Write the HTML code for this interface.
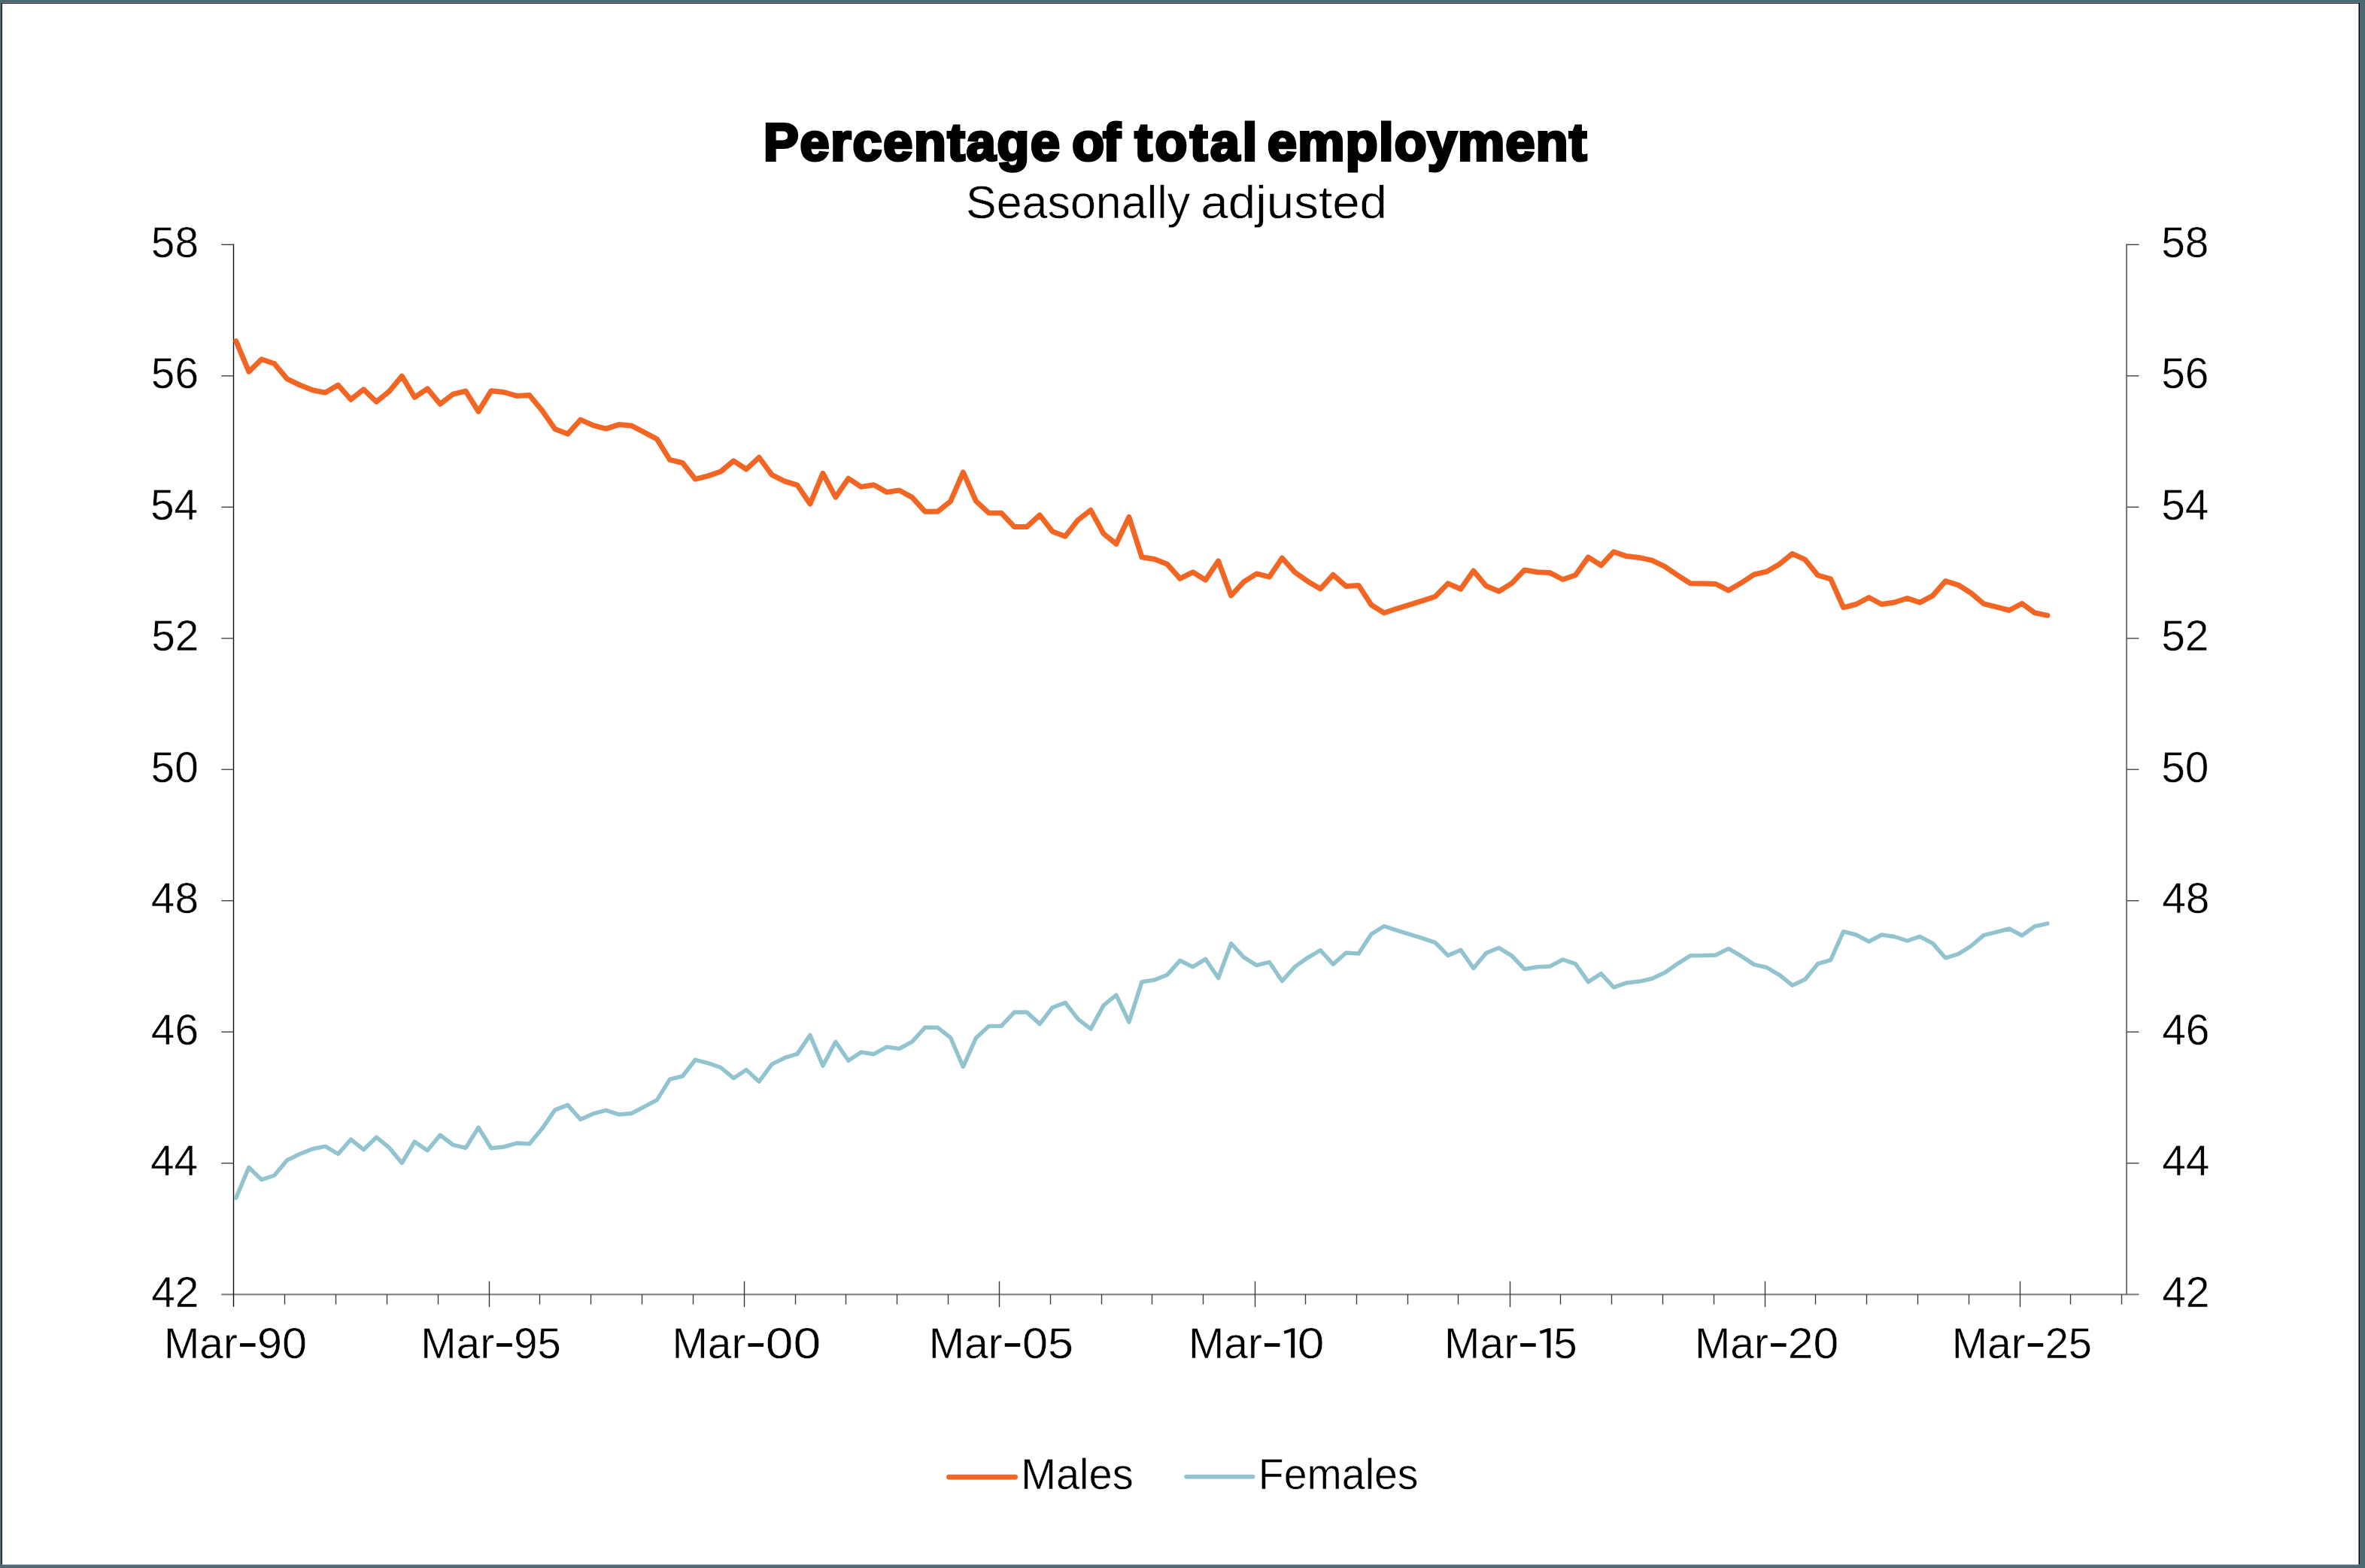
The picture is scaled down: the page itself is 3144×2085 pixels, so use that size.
<!DOCTYPE html>
<html><head><meta charset="utf-8"><title>Percentage of total employment</title>
<style>
html,body{margin:0;padding:0;background:#4c6a72;}
body{width:3144px;height:2085px;overflow:hidden;position:relative;}
svg{position:absolute;left:0;top:0;display:block;}
text{font-family:"Liberation Sans",sans-serif;fill:#000;font-kerning:none;white-space:pre;text-rendering:geometricPrecision;}
</style></head><body>
<svg width="3144" height="2085" viewBox="0 0 3144 2085">
<rect x="0" y="0" width="3144" height="2085" fill="#4c6a72"/>
<rect x="2" y="3" width="3135" height="2077.5" fill="#ffffff"/>
<rect x="2" y="3" width="3135" height="1" fill="#747474"/>
<rect x="2" y="4" width="3135" height="1" fill="#333333"/>
<rect x="2" y="4" width="1" height="2076.5" fill="#000000"/>
<rect x="3135.5" y="4" width="1.5" height="2076.5" fill="#000000"/>
<text x="1015.02" y="213.40" font-size="70" font-weight="700" letter-spacing="1.840" stroke="#000" stroke-width="3.8" stroke-linejoin="miter" stroke-miterlimit="3">Percentage</text>
<text x="1425.37" y="213.40" font-size="70" font-weight="700" letter-spacing="-1.772" stroke="#000" stroke-width="3.8" stroke-linejoin="miter" stroke-miterlimit="3">of</text>
<text x="1508.45" y="213.40" font-size="70" font-weight="700" letter-spacing="3.738" stroke="#000" stroke-width="3.8" stroke-linejoin="miter" stroke-miterlimit="3">total</text>
<text x="1685.07" y="213.40" font-size="70" font-weight="700" letter-spacing="1.320" stroke="#000" stroke-width="3.8" stroke-linejoin="miter" stroke-miterlimit="3">employment</text>
<text x="1283.98" y="289.85" font-size="61.3" font-weight="400" textLength="298.29" lengthAdjust="spacingAndGlyphs" stroke="#fff" stroke-width="0.5" stroke-linejoin="round">Seasonally</text>
<text x="1596.27" y="289.85" font-size="61.3" font-weight="400" textLength="247.81" lengthAdjust="spacingAndGlyphs" stroke="#fff" stroke-width="0.5" stroke-linejoin="round">adjusted</text>
<line x1="294.3" y1="1721.2" x2="2843.4" y2="1721.2" stroke="#7c7c7c" stroke-width="1.9"/>
<line x1="378.5" y1="1721.2" x2="378.5" y2="1734.5" stroke="#404040" stroke-width="1.4"/>
<line x1="446.5" y1="1721.2" x2="446.5" y2="1734.5" stroke="#404040" stroke-width="1.4"/>
<line x1="514.5" y1="1721.2" x2="514.5" y2="1734.5" stroke="#404040" stroke-width="1.4"/>
<line x1="582.5" y1="1721.2" x2="582.5" y2="1734.5" stroke="#404040" stroke-width="1.4"/>
<line x1="650.5" y1="1703.7" x2="650.5" y2="1738.1" stroke="#3a3a3a" stroke-width="1.4"/>
<line x1="717.5" y1="1721.2" x2="717.5" y2="1734.5" stroke="#404040" stroke-width="1.4"/>
<line x1="785.5" y1="1721.2" x2="785.5" y2="1734.5" stroke="#404040" stroke-width="1.4"/>
<line x1="853.5" y1="1721.2" x2="853.5" y2="1734.5" stroke="#404040" stroke-width="1.4"/>
<line x1="921.5" y1="1721.2" x2="921.5" y2="1734.5" stroke="#404040" stroke-width="1.4"/>
<line x1="989.5" y1="1703.7" x2="989.5" y2="1738.1" stroke="#3a3a3a" stroke-width="1.4"/>
<line x1="1057.5" y1="1721.2" x2="1057.5" y2="1734.5" stroke="#404040" stroke-width="1.4"/>
<line x1="1124.5" y1="1721.2" x2="1124.5" y2="1734.5" stroke="#404040" stroke-width="1.4"/>
<line x1="1192.5" y1="1721.2" x2="1192.5" y2="1734.5" stroke="#404040" stroke-width="1.4"/>
<line x1="1260.5" y1="1721.2" x2="1260.5" y2="1734.5" stroke="#404040" stroke-width="1.4"/>
<line x1="1328.5" y1="1703.7" x2="1328.5" y2="1738.1" stroke="#3a3a3a" stroke-width="1.4"/>
<line x1="1396.5" y1="1721.2" x2="1396.5" y2="1734.5" stroke="#404040" stroke-width="1.4"/>
<line x1="1464.5" y1="1721.2" x2="1464.5" y2="1734.5" stroke="#404040" stroke-width="1.4"/>
<line x1="1531.5" y1="1721.2" x2="1531.5" y2="1734.5" stroke="#404040" stroke-width="1.4"/>
<line x1="1599.5" y1="1721.2" x2="1599.5" y2="1734.5" stroke="#404040" stroke-width="1.4"/>
<line x1="1668.5" y1="1703.7" x2="1668.5" y2="1738.1" stroke="#3a3a3a" stroke-width="1.4"/>
<line x1="1735.5" y1="1721.2" x2="1735.5" y2="1734.5" stroke="#404040" stroke-width="1.4"/>
<line x1="1803.5" y1="1721.2" x2="1803.5" y2="1734.5" stroke="#404040" stroke-width="1.4"/>
<line x1="1871.5" y1="1721.2" x2="1871.5" y2="1734.5" stroke="#404040" stroke-width="1.4"/>
<line x1="1938.5" y1="1721.2" x2="1938.5" y2="1734.5" stroke="#404040" stroke-width="1.4"/>
<line x1="2007.5" y1="1703.7" x2="2007.5" y2="1738.1" stroke="#3a3a3a" stroke-width="1.4"/>
<line x1="2074.5" y1="1721.2" x2="2074.5" y2="1734.5" stroke="#404040" stroke-width="1.4"/>
<line x1="2142.5" y1="1721.2" x2="2142.5" y2="1734.5" stroke="#404040" stroke-width="1.4"/>
<line x1="2210.5" y1="1721.2" x2="2210.5" y2="1734.5" stroke="#404040" stroke-width="1.4"/>
<line x1="2278.5" y1="1721.2" x2="2278.5" y2="1734.5" stroke="#404040" stroke-width="1.4"/>
<line x1="2346.5" y1="1703.7" x2="2346.5" y2="1738.1" stroke="#3a3a3a" stroke-width="1.4"/>
<line x1="2413.5" y1="1721.2" x2="2413.5" y2="1734.5" stroke="#404040" stroke-width="1.4"/>
<line x1="2481.5" y1="1721.2" x2="2481.5" y2="1734.5" stroke="#404040" stroke-width="1.4"/>
<line x1="2549.5" y1="1721.2" x2="2549.5" y2="1734.5" stroke="#404040" stroke-width="1.4"/>
<line x1="2617.5" y1="1721.2" x2="2617.5" y2="1734.5" stroke="#404040" stroke-width="1.4"/>
<line x1="2685.5" y1="1703.7" x2="2685.5" y2="1738.1" stroke="#3a3a3a" stroke-width="1.4"/>
<line x1="2752.5" y1="1721.2" x2="2752.5" y2="1734.5" stroke="#404040" stroke-width="1.4"/>
<line x1="2820.5" y1="1721.2" x2="2820.5" y2="1734.5" stroke="#404040" stroke-width="1.4"/>
<line x1="310.5" y1="324.6" x2="310.5" y2="1737.8" stroke="#111" stroke-width="1.4"/>
<line x1="2827.1" y1="324.6" x2="2827.1" y2="1722.0" stroke="#6e6e6e" stroke-width="1.9"/>
<line x1="294.3" y1="325.3" x2="310.5" y2="325.3" stroke="#444" stroke-width="1.4"/>
<line x1="2827.1" y1="325.3" x2="2843.4" y2="325.3" stroke="#444" stroke-width="1.4"/>
<line x1="294.3" y1="499.8" x2="310.5" y2="499.8" stroke="#444" stroke-width="1.4"/>
<line x1="2827.1" y1="499.8" x2="2843.4" y2="499.8" stroke="#444" stroke-width="1.4"/>
<line x1="294.3" y1="674.3" x2="310.5" y2="674.3" stroke="#444" stroke-width="1.4"/>
<line x1="2827.1" y1="674.3" x2="2843.4" y2="674.3" stroke="#444" stroke-width="1.4"/>
<line x1="294.3" y1="848.8" x2="310.5" y2="848.8" stroke="#444" stroke-width="1.4"/>
<line x1="2827.1" y1="848.8" x2="2843.4" y2="848.8" stroke="#444" stroke-width="1.4"/>
<line x1="294.3" y1="1023.2" x2="310.5" y2="1023.2" stroke="#444" stroke-width="1.4"/>
<line x1="2827.1" y1="1023.2" x2="2843.4" y2="1023.2" stroke="#444" stroke-width="1.4"/>
<line x1="294.3" y1="1197.7" x2="310.5" y2="1197.7" stroke="#444" stroke-width="1.4"/>
<line x1="2827.1" y1="1197.7" x2="2843.4" y2="1197.7" stroke="#444" stroke-width="1.4"/>
<line x1="294.3" y1="1372.2" x2="310.5" y2="1372.2" stroke="#444" stroke-width="1.4"/>
<line x1="2827.1" y1="1372.2" x2="2843.4" y2="1372.2" stroke="#444" stroke-width="1.4"/>
<line x1="294.3" y1="1546.7" x2="310.5" y2="1546.7" stroke="#444" stroke-width="1.4"/>
<line x1="2827.1" y1="1546.7" x2="2843.4" y2="1546.7" stroke="#444" stroke-width="1.4"/>
<text x="200.80" y="341.75" font-size="57.8" font-weight="400" textLength="63.22" lengthAdjust="spacingAndGlyphs" stroke="#fff" stroke-width="0.5" stroke-linejoin="round">58</text>
<text x="2873.17" y="341.75" font-size="57.8" font-weight="400" textLength="63.22" lengthAdjust="spacingAndGlyphs" stroke="#fff" stroke-width="0.5" stroke-linejoin="round">58</text>
<text x="200.82" y="516.24" font-size="57.8" font-weight="400" textLength="63.22" lengthAdjust="spacingAndGlyphs" stroke="#fff" stroke-width="0.5" stroke-linejoin="round">56</text>
<text x="2873.17" y="516.24" font-size="57.8" font-weight="400" textLength="63.22" lengthAdjust="spacingAndGlyphs" stroke="#fff" stroke-width="0.5" stroke-linejoin="round">56</text>
<text x="200.00" y="690.73" font-size="57.8" font-weight="400" textLength="63.22" lengthAdjust="spacingAndGlyphs" stroke="#fff" stroke-width="0.5" stroke-linejoin="round">54</text>
<text x="2873.17" y="690.73" font-size="57.8" font-weight="400" textLength="63.22" lengthAdjust="spacingAndGlyphs" stroke="#fff" stroke-width="0.5" stroke-linejoin="round">54</text>
<text x="201.18" y="865.21" font-size="57.8" font-weight="400" textLength="63.23" lengthAdjust="spacingAndGlyphs" stroke="#fff" stroke-width="0.5" stroke-linejoin="round">52</text>
<text x="2873.17" y="865.21" font-size="57.8" font-weight="400" textLength="63.23" lengthAdjust="spacingAndGlyphs" stroke="#fff" stroke-width="0.5" stroke-linejoin="round">52</text>
<text x="200.55" y="1039.70" font-size="57.8" font-weight="400" textLength="63.22" lengthAdjust="spacingAndGlyphs" stroke="#fff" stroke-width="0.5" stroke-linejoin="round">50</text>
<text x="2873.17" y="1039.70" font-size="57.8" font-weight="400" textLength="63.22" lengthAdjust="spacingAndGlyphs" stroke="#fff" stroke-width="0.5" stroke-linejoin="round">50</text>
<text x="200.80" y="1214.19" font-size="57.8" font-weight="400" textLength="63.22" lengthAdjust="spacingAndGlyphs" stroke="#fff" stroke-width="0.5" stroke-linejoin="round">48</text>
<text x="2874.15" y="1214.19" font-size="57.8" font-weight="400" textLength="63.22" lengthAdjust="spacingAndGlyphs" stroke="#fff" stroke-width="0.5" stroke-linejoin="round">48</text>
<text x="200.83" y="1388.68" font-size="57.8" font-weight="400" textLength="63.22" lengthAdjust="spacingAndGlyphs" stroke="#fff" stroke-width="0.5" stroke-linejoin="round">46</text>
<text x="2874.15" y="1388.68" font-size="57.8" font-weight="400" textLength="63.22" lengthAdjust="spacingAndGlyphs" stroke="#fff" stroke-width="0.5" stroke-linejoin="round">46</text>
<text x="200.01" y="1563.16" font-size="57.8" font-weight="400" textLength="63.21" lengthAdjust="spacingAndGlyphs" stroke="#fff" stroke-width="0.5" stroke-linejoin="round">44</text>
<text x="2874.15" y="1563.16" font-size="57.8" font-weight="400" textLength="63.21" lengthAdjust="spacingAndGlyphs" stroke="#fff" stroke-width="0.5" stroke-linejoin="round">44</text>
<text x="201.19" y="1737.65" font-size="57.8" font-weight="400" textLength="63.22" lengthAdjust="spacingAndGlyphs" stroke="#fff" stroke-width="0.5" stroke-linejoin="round">42</text>
<text x="2874.15" y="1737.65" font-size="57.8" font-weight="400" textLength="63.22" lengthAdjust="spacingAndGlyphs" stroke="#fff" stroke-width="0.5" stroke-linejoin="round">42</text>
<text x="217.98" y="1805.55" font-size="57.8" font-weight="400" textLength="98.01" lengthAdjust="spacingAndGlyphs" stroke="#fff" stroke-width="0.5" stroke-linejoin="round">Mar</text>
<rect x="319.00" y="1786.1" width="20.6" height="4.7" fill="#000"/>
<text x="341.97" y="1805.55" font-size="57.8" font-weight="400" textLength="66.00" lengthAdjust="spacingAndGlyphs" stroke="#fff" stroke-width="0.5" stroke-linejoin="round">90</text>
<text x="559.18" y="1805.55" font-size="57.8" font-weight="400" textLength="98.01" lengthAdjust="spacingAndGlyphs" stroke="#fff" stroke-width="0.5" stroke-linejoin="round">Mar</text>
<rect x="660.20" y="1786.1" width="20.6" height="4.7" fill="#000"/>
<text x="683.32" y="1805.55" font-size="57.8" font-weight="400" textLength="62.49" lengthAdjust="spacingAndGlyphs" stroke="#fff" stroke-width="0.5" stroke-linejoin="round">95</text>
<text x="893.48" y="1805.55" font-size="57.8" font-weight="400" textLength="98.01" lengthAdjust="spacingAndGlyphs" stroke="#fff" stroke-width="0.5" stroke-linejoin="round">Mar</text>
<rect x="994.50" y="1786.1" width="20.6" height="4.7" fill="#000"/>
<text x="1017.67" y="1805.55" font-size="57.8" font-weight="400" textLength="73.46" lengthAdjust="spacingAndGlyphs" stroke="#fff" stroke-width="0.5" stroke-linejoin="round">00</text>
<text x="1234.68" y="1805.55" font-size="57.8" font-weight="400" textLength="98.01" lengthAdjust="spacingAndGlyphs" stroke="#fff" stroke-width="0.5" stroke-linejoin="round">Mar</text>
<rect x="1335.70" y="1786.1" width="20.6" height="4.7" fill="#000"/>
<text x="1359.06" y="1805.55" font-size="57.8" font-weight="400" textLength="68.06" lengthAdjust="spacingAndGlyphs" stroke="#fff" stroke-width="0.5" stroke-linejoin="round">05</text>
<text x="1579.88" y="1805.55" font-size="57.8" font-weight="400" textLength="98.01" lengthAdjust="spacingAndGlyphs" stroke="#fff" stroke-width="0.5" stroke-linejoin="round">Mar</text>
<rect x="1680.90" y="1786.1" width="20.6" height="4.7" fill="#000"/>
<polygon fill="#000" points="1706.64,1770.10 1717.54,1766.30 1721.18,1766.30 1721.18,1805.60 1716.20,1805.60 1716.20,1771.10 1707.67,1773.70"/>
<text x="1724.74" y="1805.55" font-size="57.8" font-weight="400" textLength="35.72" lengthAdjust="spacingAndGlyphs" stroke="#fff" stroke-width="0.5" stroke-linejoin="round">0</text>
<text x="1920.08" y="1805.55" font-size="57.8" font-weight="400" textLength="98.01" lengthAdjust="spacingAndGlyphs" stroke="#fff" stroke-width="0.5" stroke-linejoin="round">Mar</text>
<rect x="2021.10" y="1786.1" width="20.6" height="4.7" fill="#000"/>
<polygon fill="#000" points="2046.84,1770.10 2057.74,1766.30 2061.38,1766.30 2061.38,1805.60 2056.40,1805.60 2056.40,1771.10 2047.87,1773.70"/>
<text x="2065.19" y="1805.55" font-size="57.8" font-weight="400" textLength="31.44" lengthAdjust="spacingAndGlyphs" stroke="#fff" stroke-width="0.5" stroke-linejoin="round">5</text>
<text x="2252.98" y="1805.55" font-size="57.8" font-weight="400" textLength="98.01" lengthAdjust="spacingAndGlyphs" stroke="#fff" stroke-width="0.5" stroke-linejoin="round">Mar</text>
<rect x="2354.00" y="1786.1" width="20.6" height="4.7" fill="#000"/>
<text x="2376.70" y="1805.55" font-size="57.8" font-weight="400" textLength="67.52" lengthAdjust="spacingAndGlyphs" stroke="#fff" stroke-width="0.5" stroke-linejoin="round">20</text>
<text x="2594.68" y="1805.55" font-size="57.8" font-weight="400" textLength="98.01" lengthAdjust="spacingAndGlyphs" stroke="#fff" stroke-width="0.5" stroke-linejoin="round">Mar</text>
<rect x="2695.70" y="1786.1" width="20.6" height="4.7" fill="#000"/>
<text x="2718.63" y="1805.55" font-size="57.8" font-weight="400" textLength="62.38" lengthAdjust="spacingAndGlyphs" stroke="#fff" stroke-width="0.5" stroke-linejoin="round">25</text>
<polyline points="313.8,1592.9 330.8,1552.3 347.7,1568.7 364.7,1563.0 381.6,1542.7 398.6,1534.5 415.6,1527.7 432.5,1524.4 449.5,1534.5 466.4,1515.2 483.4,1528.7 500.3,1512.2 517.3,1525.9 534.3,1546.4 551.2,1518.2 568.2,1529.7 585.1,1509.3 602.1,1522.3 619.1,1526.4 636.0,1499.3 653.0,1526.8 669.9,1525.0 686.9,1520.1 703.8,1521.0 720.8,1500.6 737.8,1475.9 754.7,1469.4 771.7,1488.4 788.6,1480.9 805.6,1476.4 822.6,1481.9 839.5,1480.5 856.5,1471.6 873.4,1462.6 890.4,1435.2 907.3,1431.0 924.3,1409.3 941.3,1413.6 958.2,1419.5 975.2,1433.7 992.1,1422.5 1009.1,1438.2 1026.1,1415.1 1043.0,1406.7 1060.0,1401.4 1076.9,1376.4 1093.9,1417.2 1110.8,1385.3 1127.8,1410.3 1144.8,1399.1 1161.7,1401.7 1178.7,1392.1 1195.6,1394.5 1212.6,1385.1 1229.6,1366.3 1246.5,1366.3 1263.5,1379.7 1280.4,1418.5 1297.4,1380.3 1314.4,1364.5 1331.3,1364.2 1348.3,1346.1 1365.2,1346.1 1382.2,1361.6 1399.1,1339.8 1416.1,1333.3 1433.1,1355.1 1450.0,1368.2 1467.0,1336.9 1483.9,1323.2 1500.9,1359.0 1517.9,1305.6 1534.8,1303.0 1551.8,1296.2 1568.7,1277.2 1585.7,1285.7 1602.6,1275.3 1619.6,1300.5 1636.6,1254.5 1653.5,1272.9 1670.5,1283.6 1687.4,1279.3 1704.4,1304.5 1721.4,1285.5 1738.3,1273.6 1755.3,1263.5 1772.2,1282.2 1789.2,1267.1 1806.1,1268.1 1823.1,1242.0 1840.1,1231.5 1857.0,1237.2 1874.0,1242.4 1890.9,1247.6 1907.9,1253.3 1924.9,1270.6 1941.8,1263.2 1958.8,1287.5 1975.7,1267.3 1992.7,1260.3 2009.7,1270.9 2026.6,1288.6 2043.6,1285.7 2060.5,1284.9 2077.5,1276.0 2094.4,1281.7 2111.4,1305.6 2128.4,1294.7 2145.3,1312.8 2162.3,1306.9 2179.2,1305.1 2196.2,1301.3 2213.2,1293.2 2230.1,1281.6 2247.1,1270.7 2264.0,1270.6 2281.0,1270.0 2297.9,1261.4 2314.9,1271.4 2331.9,1282.6 2348.8,1286.5 2365.8,1296.6 2382.7,1310.2 2399.7,1302.3 2416.7,1281.5 2433.6,1276.7 2450.6,1238.7 2467.5,1243.0 2484.5,1252.0 2501.4,1243.0 2518.4,1245.5 2535.4,1251.0 2552.3,1245.3 2569.3,1254.4 2586.2,1273.8 2603.2,1268.7 2620.2,1258.0 2637.1,1243.6 2654.1,1239.3 2671.0,1235.0 2688.0,1244.0 2704.9,1231.7 2721.9,1228.1" fill="none" stroke="#92c4d0" stroke-width="5.5" stroke-linejoin="round" stroke-linecap="round"/>
<polyline points="313.8,453.6 330.8,494.2 347.7,477.8 364.7,483.5 381.6,503.8 398.6,512.0 415.6,518.8 432.5,522.1 449.5,512.0 466.4,531.3 483.4,517.8 500.3,534.3 517.3,520.6 534.3,500.1 551.2,528.3 568.2,516.8 585.1,537.2 602.1,524.2 619.1,520.1 636.0,547.2 653.0,519.7 669.9,521.5 686.9,526.4 703.8,525.5 720.8,545.9 737.8,570.6 754.7,577.1 771.7,558.1 788.6,565.6 805.6,570.1 822.6,564.6 839.5,566.0 856.5,574.9 873.4,583.9 890.4,611.3 907.3,615.5 924.3,637.2 941.3,632.9 958.2,627.0 975.2,612.8 992.1,624.0 1009.1,608.3 1026.1,631.4 1043.0,639.8 1060.0,645.1 1076.9,670.1 1093.9,629.3 1110.8,661.2 1127.8,636.2 1144.8,647.4 1161.7,644.8 1178.7,654.4 1195.6,652.0 1212.6,661.4 1229.6,680.2 1246.5,680.2 1263.5,666.8 1280.4,628.0 1297.4,666.2 1314.4,682.0 1331.3,682.3 1348.3,700.4 1365.2,700.4 1382.2,684.9 1399.1,706.7 1416.1,713.2 1433.1,691.4 1450.0,678.3 1467.0,709.6 1483.9,723.3 1500.9,687.5 1517.9,740.9 1534.8,743.5 1551.8,750.3 1568.7,769.3 1585.7,760.8 1602.6,771.2 1619.6,746.0 1636.6,792.0 1653.5,773.6 1670.5,762.9 1687.4,767.2 1704.4,742.0 1721.4,761.0 1738.3,772.9 1755.3,783.0 1772.2,764.3 1789.2,779.4 1806.1,778.4 1823.1,804.5 1840.1,815.0 1857.0,809.3 1874.0,804.1 1890.9,798.9 1907.9,793.2 1924.9,775.9 1941.8,783.3 1958.8,759.0 1975.7,779.2 1992.7,786.2 2009.7,775.6 2026.6,757.9 2043.6,760.8 2060.5,761.6 2077.5,770.5 2094.4,764.8 2111.4,740.9 2128.4,751.8 2145.3,733.7 2162.3,739.6 2179.2,741.4 2196.2,745.2 2213.2,753.3 2230.1,764.9 2247.1,775.8 2264.0,775.9 2281.0,776.5 2297.9,785.1 2314.9,775.1 2331.9,763.9 2348.8,760.0 2365.8,749.9 2382.7,736.3 2399.7,744.2 2416.7,765.0 2433.6,769.8 2450.6,807.8 2467.5,803.5 2484.5,794.5 2501.4,803.5 2518.4,801.0 2535.4,795.5 2552.3,801.2 2569.3,792.1 2586.2,772.7 2603.2,777.8 2620.2,788.5 2637.1,802.9 2654.1,807.2 2671.0,811.5 2688.0,802.5 2704.9,814.8 2721.9,818.4" fill="none" stroke="#f26522" stroke-width="7" stroke-linejoin="round" stroke-linecap="round"/>
<line x1="1261.5" y1="1964.1" x2="1349.6" y2="1964.1" stroke="#f26522" stroke-width="6.8" stroke-linecap="round"/>
<text x="1357.15" y="1979.65" font-size="57.8" font-weight="400" textLength="149.73" lengthAdjust="spacingAndGlyphs" stroke="#fff" stroke-width="0.5" stroke-linejoin="round">Males</text>
<line x1="1577.1" y1="1963.6" x2="1665.6" y2="1963.6" stroke="#92c4d0" stroke-width="5.7" stroke-linecap="round"/>
<text x="1672.80" y="1979.65" font-size="57.8" font-weight="400" textLength="212.76" lengthAdjust="spacingAndGlyphs" stroke="#fff" stroke-width="0.5" stroke-linejoin="round">Females</text>
</svg>
</body></html>
